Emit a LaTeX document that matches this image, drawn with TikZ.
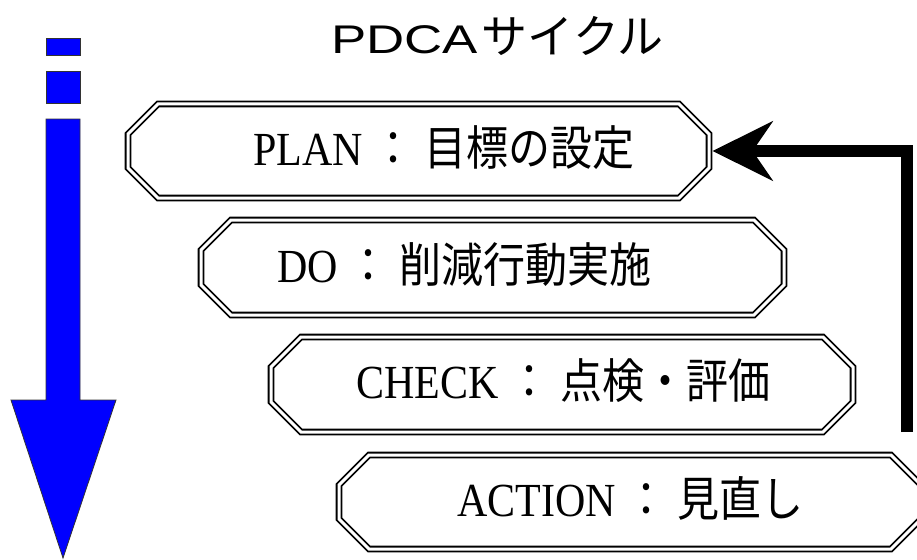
\documentclass[tikz,border=0pt]{standalone}
\usepackage{fontspec}
\setmainfont{Liberation Serif}
\setsansfont{Liberation Sans}
\newfontfamily\cjk{Noto Sans CJK JP}
\usetikzlibrary{arrows.meta}
\definecolor{pureblue}{RGB}{0,0,255}
\tikzset{
  chbox/.style={draw=black, line width=1.8pt, double=white, double distance=3pt, line join=miter},
  boxtext/.style={inner sep=0pt, anchor=base west, font=\fontsize{42}{42}\selectfont},
  titletext/.style={inner sep=0pt, anchor=base west},
  bluebar/.style={fill=pureblue, draw=black!80, line width=0.8pt, line join=miter},
  flow/.style={line width=12pt, line join=miter, -{Stealth[length=60pt,width=59pt,inset=20pt]}},
}
\newcommand\chamferbox[5]{%
  \draw[chbox] ({#2+30},#3) -- ({#4-30},#3) -- (#4,{#3+30}) -- (#4,{#5-30}) -- ({#4-30},#5) -- ({#2+30},#5) -- (#2,{#5-30}) -- (#2,{#3+30}) -- cycle;
  \coordinate (#1E) at ({#4+3.5},{(#3+#5)/2});
}
\newcommand\sep{\hspace{10pt}{\cjk ：}\hspace{10pt}}
\newcommand\bt[1]{\scalebox{1}[1.13]{#1}}
\begin{document}
\begin{tikzpicture}[x=1pt,y=-1pt]
\useasboundingbox (0,0) rectangle (917,559);
% title
\node[titletext] (title) at (331,54) {\scalebox{1.32}[1]{\sffamily\fontsize{40}{40}\selectfont PDCA}\hspace{4pt}{\cjk\fontsize{46}{46}\selectfont サイクル}};
% blue arrow
\draw[bluebar] (46,38) rectangle (80,55);
\draw[bluebar] (46,71) rectangle (80,103);
\draw[bluebar] (46,119) -- (80,119) -- (80,400) -- (116,400) -- (63,558) -- (11,400) -- (46,400) -- cycle;
% boxes
\chamferbox{plan}{128}{104}{709}{198}
\chamferbox{do}{201}{220}{784}{315}
\chamferbox{check}{271}{337}{853}{432}
\chamferbox{action}{339}{455}{921}{549}
% texts
\node[boxtext] (tplan) at (253,165) {\bt{PLAN\sep{\cjk 目標の設定}}};
\node[boxtext] (tdo) at (277,282) {\bt{DO\sep{\cjk 削減行動実施}}};
\node[boxtext] (tcheck) at (356,398) {\bt{CHECK\sep{\cjk 点検・評価}}};
\node[boxtext] (taction) at (457,516) {\bt{ACTION\sep{\cjk 見直し}}};
% feedback arrow
\coordinate (fbstart) at (907,432);
\draw[flow] (fbstart) |- (planE);
\end{tikzpicture}
\end{document}
